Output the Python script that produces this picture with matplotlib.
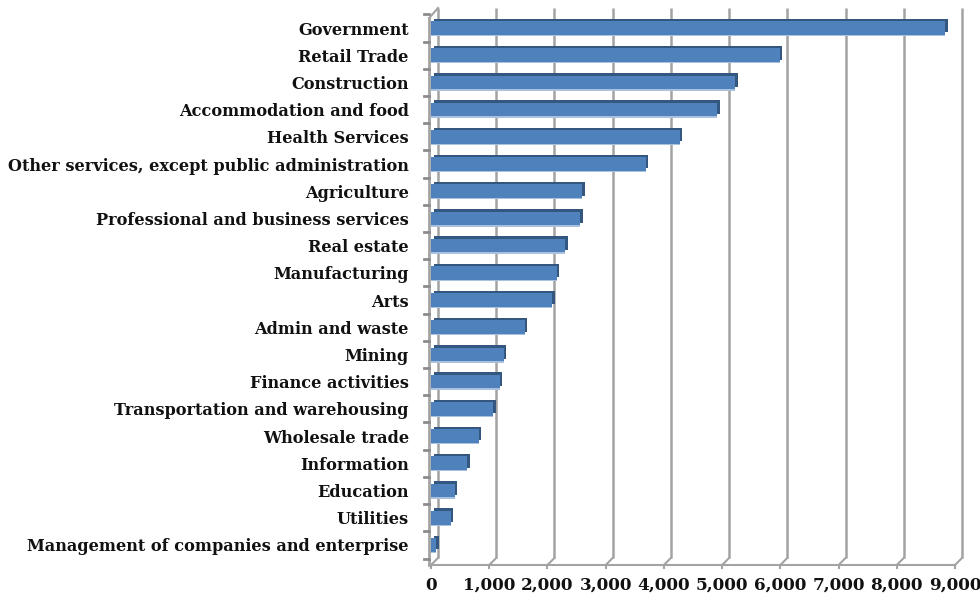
import matplotlib
matplotlib.use("Agg")
import matplotlib.pyplot as plt

plt.rcParams["font.family"] = ["DejaVu Serif"]

INDUSTRIES = [
    "Government", "Retail Trade", "Construction", "Accommodation and food",
    "Health Services", "Other services, except public administration",
    "Agriculture", "Professional and business services", "Real estate",
    "Manufacturing", "Arts", "Admin and waste", "Mining", "Finance activities",
    "Transportation and warehousing", "Wholesale trade", "Information",
    "Education", "Utilities", "Management of companies and enterprise",
]
JOBS = [8830, 5990, 5220, 4920, 4270, 3690, 2600, 2560, 2310, 2160,
        2080, 1610, 1250, 1180, 1070, 820, 620, 410, 340, 90]
XTICKS = list(range(0, 9001, 1000))

FRONT = "#4F81BD"; TOPSIDE = "#33577F"; SHINE = "#A9C0DE"
WALL = "#A3A3A3"

fig = plt.figure(figsize=(9.8, 6.03), dpi=100)
ax = fig.add_axes([431 / 980, 1 - 558.5 / 603, 524 / 980, 544 / 603])
ax.set_xlim(0, 9000)
ax.set_ylim(19.5, -0.5)
for s in ax.spines.values():
    s.set_visible(False)

# fake 3-D depth (data units): ~7 px for the walls, ~2.5 px for each bar
DX, DY = 120, 0.26
BDX, BDY = 45, 0.095
FLOOR = 19.74

ys = list(range(len(INDUSTRIES)))

# back-wall gridlines plus the short diagonals down to the floor front edge
for v in XTICKS:
    ax.plot([v + DX, v + DX], [FLOOR - DY, -0.74], color=WALL, lw=1.8,
            clip_on=False, zorder=1, solid_capstyle="butt")
    ax.plot([v, v + DX], [FLOOR, FLOOR - DY], color=WALL, lw=1.5,
            clip_on=False, zorder=1)
    ax.plot([v, v], [FLOOR, FLOOR + 0.12], color=WALL, lw=1.5,
            clip_on=False, zorder=1)
ax.plot([0, 9000], [FLOOR, FLOOR], color=WALL, lw=1.5, clip_on=False, zorder=1)

# left side wall with category separator ticks
ax.plot([-30, -30], [FLOOR, -0.37], color=WALL, lw=2, clip_on=False, zorder=1)
ax.plot([-30, DX], [-0.37, -0.74], color=WALL, lw=1.5, clip_on=False, zorder=1)
for b in range(len(INDUSTRIES) + 1):
    y = b - 0.5
    ax.plot([-120, -30], [y, y], color="#8C8C8C", lw=2, clip_on=False, zorder=1)

# bars: dark shifted box behind, light rim below, front face on top
h = 0.5
ax.barh([y - BDY for y in ys], JOBS, left=BDX, height=h, color=TOPSIDE, zorder=2)
ax.barh([y + 0.05 for y in ys], JOBS, height=h, color=SHINE, zorder=2.5)
ax.barh(ys, JOBS, height=h, color=FRONT, zorder=3)

ax.set_yticks(ys)
ax.set_yticklabels(INDUSTRIES, fontsize=11.6, fontweight="bold", color="#111111")
ax.set_xticks(XTICKS)
ax.set_xticklabels([f"{v:,}" for v in XTICKS], fontsize=12.2,
                   fontweight="bold", color="#111111")
ax.tick_params(axis="y", length=0, pad=16)
ax.tick_params(axis="x", length=0, pad=13)

fig.savefig("out.png", dpi=100, facecolor="white")
